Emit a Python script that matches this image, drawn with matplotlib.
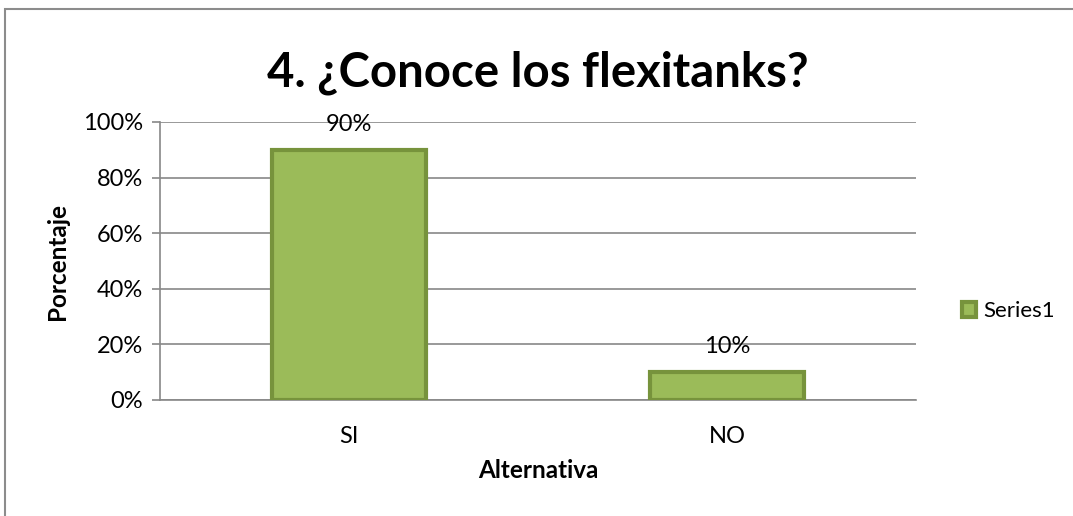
import matplotlib
matplotlib.use("Agg")
import matplotlib.pyplot as plt
from matplotlib.patches import Rectangle
from matplotlib.ticker import PercentFormatter

categories = ["SI", "NO"]
values = [90, 10]
labels = ["90%", "10%"]
yticks = [0, 20, 40, 60, 80, 100]

plt.rcParams['font.family'] = ['Lato', 'DejaVu Sans']

fig = plt.figure(figsize=(10.73, 5.16), dpi=100)
ax = fig.add_axes([160/1073, 1 - 400/516, 756/1073, 278/516])

# chart frame
fig.patches.append(Rectangle((5/1073, -0.1), 1.2, 1.1 - 9/516, transform=fig.transFigure,
                             fill=False, edgecolor="#8c8c8c", linewidth=1.5))

x = range(len(categories))
bars = ax.bar(x, values, width=0.41, color="#9BBB59", edgecolor="#77933C",
              linewidth=3, label="Series1", zorder=3)
for xi, v, lab in zip(x, values, labels):
    ax.text(xi, v + 5.5, lab, ha="center", va="bottom", fontsize=17, zorder=4)

ax.set_xlim(-0.5, 1.5)
ax.set_ylim(0, 100)
ax.set_yticks(yticks)
ax.yaxis.set_major_formatter(PercentFormatter(decimals=0))
ax.set_xticks(list(x))
ax.set_xticklabels(categories)
ax.tick_params(axis="x", labelsize=17, length=0, pad=19)
ax.tick_params(axis="y", labelsize=17, length=6, color="#888888", width=1.2, pad=6)
ax.grid(axis="y", color="#888888", linewidth=1.2, zorder=0)
for s in ["top", "right"]:
    ax.spines[s].set_visible(False)
for s in ["bottom", "left"]:
    ax.spines[s].set_color("#888888")
    ax.spines[s].set_linewidth(1.2)

ax.set_ylabel("Porcentaje", fontsize=17.5, fontweight="bold", labelpad=10)
ax.set_xlabel("Alternativa", fontsize=17.5, fontweight="bold", labelpad=8)
fig.text(538/1073, 1 - 73/516, "4. ¿Conoce los flexitanks?", ha="center", va="center",
         fontsize=34, fontweight="bold")

ax.legend(loc="center left", bbox_to_anchor=(942/1073, 1 - 311/516),
          bbox_transform=fig.transFigure, frameon=False, fontsize=16,
          handlelength=0.65, handleheight=0.65, handletextpad=0.3)

fig.savefig("out.png", dpi=100)
